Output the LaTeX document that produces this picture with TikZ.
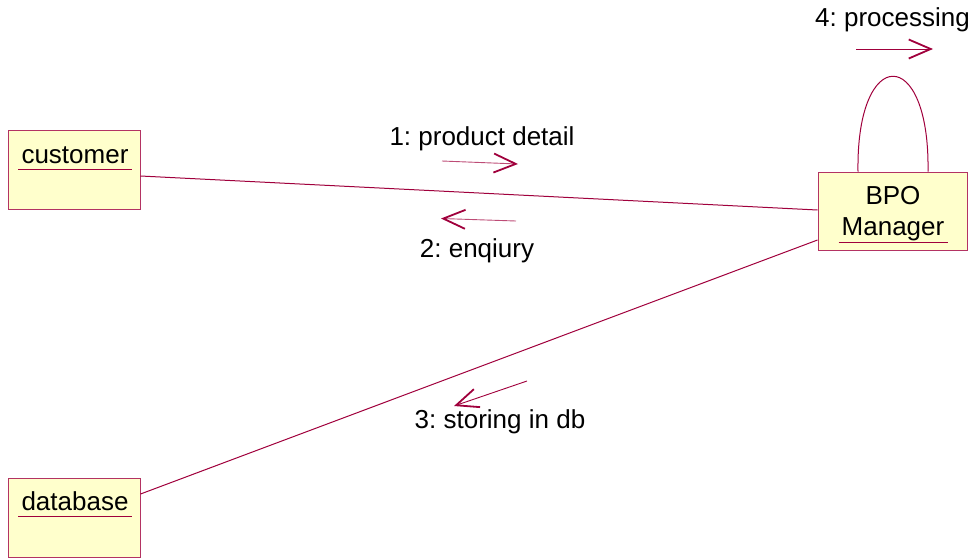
\documentclass[tikz,border=0pt]{standalone}
\usepackage{fontspec}
\setmainfont{Liberation Sans}
\usetikzlibrary{positioning,calc}
\usetikzlibrary{arrows.meta}
\definecolor{RoseRed}{RGB}{160,0,60}
\definecolor{RoseYellow}{RGB}{255,255,204}
\tikzset{
  obj/.style={draw=RoseRed!80,fill=RoseYellow,line width=1pt,inner sep=0pt},
  objname/.style={anchor=south,inner xsep=3pt,inner ysep=0pt,text depth=6pt,align=center},
  link/.style={draw=RoseRed,line width=1pt},
}
\tikzset{msg/.style={draw=RoseRed,line width=0.9pt,-{Straight Barb[length=22pt,width=19pt,line width=1.8pt,color=RoseRed]}}, faint/.style={draw=RoseRed!70}, msglab/.style={anchor=base}}

\begin{document}
\frenchspacing
\begin{tikzpicture}[x=1pt,y=-1pt,font=\fontsize{26}{31.5}\selectfont]
\useasboundingbox (0,0) rectangle (977,558);
\node[obj,minimum width=132pt,minimum height=79pt] (customer) at (74,169.5) {};
\node[obj,minimum width=132pt,minimum height=79pt] (database) at (74,517.5) {};
\node[obj,minimum width=149pt,minimum height=78pt] (manager) at (892.5,211) {};
\node[objname] (customer-name) at (75,169.3) {customer};
\node[objname] (database-name) at (75,516.7) {database};
\node[objname] (manager-name) at (893,242) {BPO\\Manager};
\draw[link] (customer-name.south west) -- (customer-name.south east);
\draw[link] (database-name.south west) -- (database-name.south east);
\draw[link] (manager-name.south west) -- (manager-name.south east);
\draw[link] ([yshift=-6.5pt]customer.east) -- ([yshift=1pt]manager.west);
\draw[link] ([yshift=23.5pt]database.east) -- ([yshift=-29pt]manager.west);
\draw[link] ([xshift=-34.5pt]manager.north) .. controls +(-2,-127) and +(2,-127) .. ([xshift=35.5pt]manager.north);
\coordinate (m1s) at (442,161);
\coordinate (m1e) at (518,164);
\coordinate (m2s) at (516,221);
\coordinate (m2e) at (441,218.5);
\coordinate (m3s) at (527,381);
\coordinate (m3e) at (454,406);
\coordinate (m4s) at (856,49);
\coordinate (m4e) at (933,49);
\draw[msg,faint] (m1s) -- (m1e);
\draw[msg,faint] (m2s) -- (m2e);
\draw[msg] (m3s) -- (m3e);
\draw[msg] (m4s) -- (m4e);
\node[msglab] (m1-lab) at (482,145) {1: product detail};
\node[msglab] (m2-lab) at (477,257.3) {2: enqiury};
\node[msglab] (m3-lab) at (500,428.3) {3: storing in db};
\node[msglab] (m4-lab) at (892.5,26.7) {4: processing};
\end{tikzpicture}
\end{document}
